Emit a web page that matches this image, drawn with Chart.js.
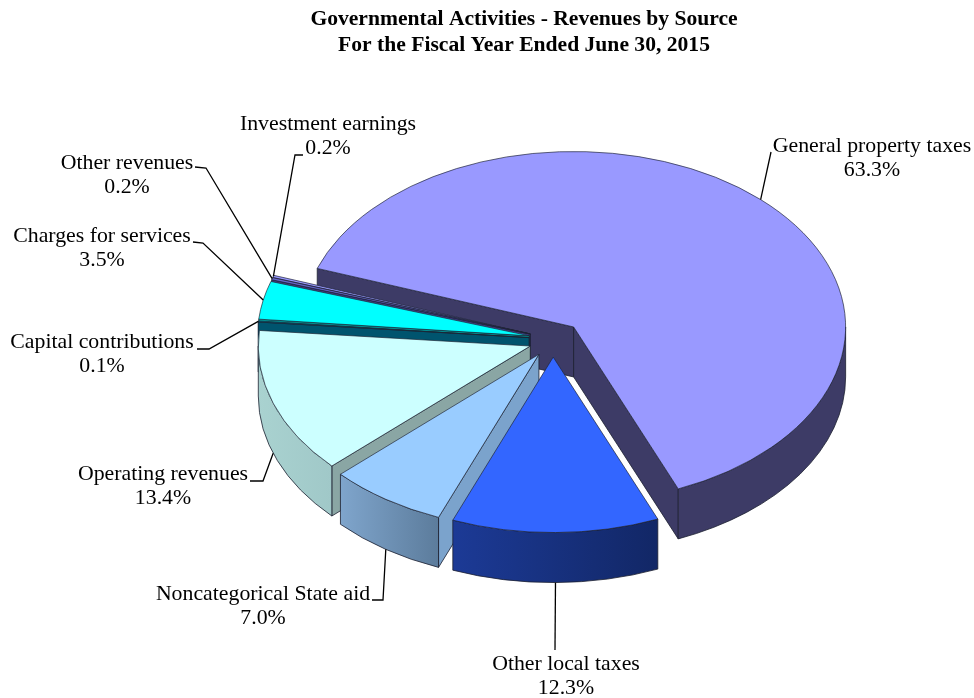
<!DOCTYPE html>
<html><head><meta charset="utf-8">
<style>html,body{margin:0;padding:0;background:#fff}#w{width:974px;height:698px;position:relative}</style>
<script src="https://cdn.jsdelivr.net/npm/chart.js@4"></script>
</head><body><div id="w"><canvas id="c"></canvas></div>
<script>
const categories = ["General property taxes","Other local taxes","Noncategorical State aid","Operating revenues","Capital contributions","Charges for services","Other revenues","Investment earnings"];
const values = [63.3,12.3,7.0,13.4,0.1,3.5,0.2,0.2];
const valueLabels = ["63.3%","12.3%","7.0%","13.4%","0.1%","3.5%","0.2%","0.2%"];
const topColors = ["#9999FF","#3366FF","#99CCFF","#CCFFFF","#006080","#00FFFF","#6666CC","#9999FF"];
const cutColors = ["#3D3B66","#1C3A96","#7BA3CC","#8AA6A4","#00546E","#00A0A0","#3D3B80","#3D3B66"];
const rimFrom = ["#3D3B66","#1C3A96","#7FA5CC","#A9D2D0","#00546E","#00A0A0","#3D3B80","#3D3B66"];
const rimTo   = ["#3D3B66","#122766","#5C7C9C","#A0C8C8","#00546E","#00A0A0","#3D3B80","#3D3B66"];
const paintOrder = [0,7,6,5,4,3,2,1];
const explodeBy = [30,25,25,24,24,24,24,24];
const liftBy = [0,0,0,0,2,2,2,2];
const view = {cx:553, cy:341, rx:272, tilt:0.645, depth:50, rotation:289.5};
// label layout: text centre, first line y, elbow points of the leader line, tip on lower rim?
const labelLayout = [
 {x:872,y:146,line:[[771,152]],low:false},
 {x:566,y:664,line:[[555,650]],low:true},
 {x:263,y:594,line:[[372,600],[383,600]],low:true},
 {x:163,y:474,line:[[250,481],[263,481]],low:true},
 {x:102,y:342,line:[[197,349],[209,349]],low:false},
 {x:102,y:236,line:[[193,242],[203,243]],low:false},
 {x:127,y:163,line:[[195,167],[206,168]],low:false},
 {x:328,y:124,line:[[303,155],[295,155]],low:false}
];
const base = (a,i) => {
  const m=(a.startAngle+a.endAngle)/2, e=explodeBy[i];
  return {m, ox:view.cx+e*Math.cos(m), oy:view.cy+e*Math.sin(m)*view.tilt-liftBy[i]};
};
const pie3d = {
  id:'pie3d',
  beforeDatasetDraw(chart){
    const ctx=chart.ctx, arcs=chart.getDatasetMeta(0).data, V=view;
    const r=V.rx, k=V.tilt, d=V.depth;
    for(const i of paintOrder){
      const a=arcs[i], b=base(a,i), s=a.startAngle, e=a.endAngle;
      ctx.save();
      ctx.lineWidth=0.8; ctx.strokeStyle='#1c2030'; ctx.lineJoin='round';
      // cut faces that look toward the viewer
      const faces=[];
      if(-Math.cos(s)>0) faces.push(s);
      if(Math.cos(e)>0) faces.push(e);
      for(const t of faces){
        const px=b.ox+r*Math.cos(t), py=b.oy+r*k*Math.sin(t);
        ctx.beginPath();
        ctx.moveTo(b.ox,b.oy);ctx.lineTo(px,py);ctx.lineTo(px,py+d);ctx.lineTo(b.ox,b.oy+d);ctx.closePath();
        ctx.fillStyle=cutColors[i];ctx.fill();ctx.stroke();
      }
      // outer wall, lower half only
      for(let n=-1;n<=1;n++){
        const a0=Math.max(s,2*Math.PI*n), a1=Math.min(e,Math.PI+2*Math.PI*n);
        if(a1<=a0) continue;
        const x0=b.ox+r*Math.cos(a0), x1=b.ox+r*Math.cos(a1);
        const g=ctx.createLinearGradient(Math.max(x0,x1),0,Math.min(x0,x1),0);
        g.addColorStop(0,rimTo[i]);g.addColorStop(1,rimFrom[i]);
        ctx.beginPath();
        ctx.ellipse(b.ox,b.oy,r,r*k,0,a0,a1);
        ctx.ellipse(b.ox,b.oy+d,r,r*k,0,a1,a0,true);
        ctx.closePath();
        ctx.fillStyle=g;ctx.fill();ctx.stroke();
      }
      // top face: the library's own arc element, tilted
      ctx.translate(b.ox,b.oy);ctx.scale(1,k);ctx.translate(-a.x,-a.y);
      a.draw(ctx);
      ctx.restore();
    }
    return false;
  },
  afterDraw(chart){
    const ctx=chart.ctx, arcs=chart.getDatasetMeta(0).data, V=view;
    ctx.save();
    ctx.font='21.8px "Liberation Serif"';ctx.fillStyle='#000';ctx.textAlign='center';ctx.textBaseline='middle';
    ctx.strokeStyle='#000';ctx.lineWidth=1.3;
    categories.forEach((name,i)=>{
      const L=labelLayout[i], a=arcs[i], b=base(a,i);
      ctx.fillText(name,L.x,L.y);
      ctx.fillText(valueLabels[i],L.x,L.y+24.5);
      const tx=b.ox+V.rx*Math.cos(b.m), ty=b.oy+V.rx*V.tilt*Math.sin(b.m)+(L.low?V.depth:0);
      ctx.beginPath();
      L.line.forEach((p,j)=> j?ctx.lineTo(p[0],p[1]):ctx.moveTo(p[0],p[1]));
      ctx.lineTo(tx,ty);ctx.stroke();
    });
    ctx.restore();
  }
};
new Chart(document.getElementById('c'),{
  type:'pie',
  data:{labels:categories,datasets:[{data:values,backgroundColor:topColors,borderColor:'#1c2030',borderWidth:0.8}]},
  plugins:[pie3d],
  options:{
    responsive:true,maintainAspectRatio:false,animation:false,
    radius:view.rx,rotation:view.rotation,
    layout:{padding:{left:74,top:6}},
    plugins:{
      legend:{display:false},tooltip:{enabled:false},
      title:{display:true,text:["Governmental Activities - Revenues by Source","For the Fiscal Year Ended June 30, 2015"],
        color:'#000',font:{family:'"Liberation Serif"',size:21.6,weight:'bold',lineHeight:1.22},padding:0}
    }
  }
});
</script></body></html>
